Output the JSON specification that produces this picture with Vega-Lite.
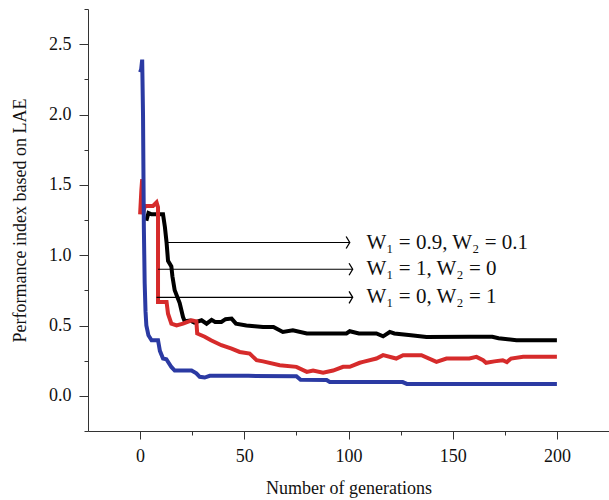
{
  "$schema": "https://vega.github.io/schema/vega-lite/v6.json",
  "width": 521,
  "height": 422,
  "autosize": {"type": "none"},
  "padding": {"left": 88, "top": 9, "right": 0, "bottom": 69},
  "background": "white",
  "config": {
    "view": {"stroke": null},
    "font": "Liberation Serif",
    "axis": {
      "grid": false,
      "domainColor": "#333333",
      "tickColor": "#333333",
      "labelFont": "Liberation Serif",
      "titleFont": "Liberation Serif",
      "labelFontSize": 18,
      "titleFontSize": 18,
      "titleFontWeight": "normal",
      "labelColor": "#111111",
      "titleColor": "#111111"
    }
  },
  "datasets": {
    "curves": [
      {"gen": 3, "perf": 1.245, "s": "a"}, {"gen": 4, "perf": 1.3, "s": "a"}, {"gen": 5.5, "perf": 1.29, "s": "a"}, {"gen": 11, "perf": 1.29, "s": "a"},
      {"gen": 11.9, "perf": 1.2, "s": "a"}, {"gen": 12.7, "perf": 1.09, "s": "a"}, {"gen": 13.4, "perf": 0.96, "s": "a"}, {"gen": 15, "perf": 0.92, "s": "a"},
      {"gen": 15.5, "perf": 0.85, "s": "a"}, {"gen": 16.6, "perf": 0.75, "s": "a"}, {"gen": 19, "perf": 0.66, "s": "a"}, {"gen": 20.6, "perf": 0.56, "s": "a"},
      {"gen": 21.4, "perf": 0.53, "s": "a"}, {"gen": 24, "perf": 0.535, "s": "a"}, {"gen": 26, "perf": 0.52, "s": "a"}, {"gen": 29.5, "perf": 0.537, "s": "a"},
      {"gen": 31.9, "perf": 0.513, "s": "a"}, {"gen": 34.3, "perf": 0.54, "s": "a"}, {"gen": 36, "perf": 0.525, "s": "a"}, {"gen": 39, "perf": 0.525, "s": "a"},
      {"gen": 41, "perf": 0.545, "s": "a"}, {"gen": 43.9, "perf": 0.549, "s": "a"}, {"gen": 46, "perf": 0.513, "s": "a"}, {"gen": 51, "perf": 0.5, "s": "a"},
      {"gen": 55, "perf": 0.495, "s": "a"}, {"gen": 59, "perf": 0.49, "s": "a"}, {"gen": 64, "perf": 0.49, "s": "a"}, {"gen": 68.5, "perf": 0.454, "s": "a"},
      {"gen": 73.3, "perf": 0.466, "s": "a"}, {"gen": 80, "perf": 0.443, "s": "a"}, {"gen": 99, "perf": 0.443, "s": "a"}, {"gen": 100.6, "perf": 0.459, "s": "a"},
      {"gen": 105, "perf": 0.443, "s": "a"}, {"gen": 113.4, "perf": 0.443, "s": "a"}, {"gen": 116.6, "perf": 0.423, "s": "a"}, {"gen": 119.8, "perf": 0.454, "s": "a"},
      {"gen": 122, "perf": 0.443, "s": "a"}, {"gen": 130, "perf": 0.43, "s": "a"}, {"gen": 137.4, "perf": 0.419, "s": "a"}, {"gen": 158, "perf": 0.42, "s": "a"},
      {"gen": 169, "perf": 0.42, "s": "a"}, {"gen": 172, "perf": 0.41, "s": "a"}, {"gen": 180.6, "perf": 0.395, "s": "a"}, {"gen": 200, "perf": 0.395, "s": "a"},

      {"gen": 0, "perf": 1.29, "s": "b"}, {"gen": 0.6, "perf": 1.46, "s": "b"}, {"gen": 1, "perf": 1.54, "s": "b"}, {"gen": 1.4, "perf": 1.3, "s": "b"},
      {"gen": 2.3, "perf": 1.35, "s": "b"}, {"gen": 6.2, "perf": 1.35, "s": "b"}, {"gen": 7.9, "perf": 1.376, "s": "b"}, {"gen": 8.6, "perf": 1.34, "s": "b"},
      {"gen": 8.6, "perf": 0.667, "s": "b"}, {"gen": 12.7, "perf": 0.667, "s": "b"}, {"gen": 13.4, "perf": 0.584, "s": "b"}, {"gen": 15, "perf": 0.513, "s": "b"},
      {"gen": 17.5, "perf": 0.5, "s": "b"}, {"gen": 20.6, "perf": 0.513, "s": "b"}, {"gen": 24.7, "perf": 0.537, "s": "b"}, {"gen": 27, "perf": 0.53, "s": "b"},
      {"gen": 27.4, "perf": 0.443, "s": "b"}, {"gen": 31, "perf": 0.42, "s": "b"}, {"gen": 34, "perf": 0.395, "s": "b"}, {"gen": 39, "perf": 0.36, "s": "b"},
      {"gen": 43.9, "perf": 0.336, "s": "b"}, {"gen": 47.8, "perf": 0.312, "s": "b"}, {"gen": 52.6, "perf": 0.3, "s": "b"}, {"gen": 55.9, "perf": 0.253, "s": "b"},
      {"gen": 59, "perf": 0.245, "s": "b"}, {"gen": 67, "perf": 0.218, "s": "b"}, {"gen": 75, "perf": 0.206, "s": "b"}, {"gen": 80, "perf": 0.17, "s": "b"},
      {"gen": 83, "perf": 0.18, "s": "b"}, {"gen": 87.8, "perf": 0.165, "s": "b"}, {"gen": 92.6, "perf": 0.18, "s": "b"}, {"gen": 97.4, "perf": 0.206, "s": "b"},
      {"gen": 100.6, "perf": 0.206, "s": "b"}, {"gen": 105.4, "perf": 0.235, "s": "b"}, {"gen": 107, "perf": 0.241, "s": "b"}, {"gen": 113.4, "perf": 0.265, "s": "b"},
      {"gen": 116.6, "perf": 0.289, "s": "b"}, {"gen": 122.9, "perf": 0.265, "s": "b"}, {"gen": 126.2, "perf": 0.289, "s": "b"}, {"gen": 135, "perf": 0.289, "s": "b"},
      {"gen": 142.2, "perf": 0.241, "s": "b"}, {"gen": 147, "perf": 0.265, "s": "b"}, {"gen": 158, "perf": 0.265, "s": "b"}, {"gen": 161.4, "perf": 0.277, "s": "b"},
      {"gen": 164.6, "perf": 0.253, "s": "b"}, {"gen": 166, "perf": 0.235, "s": "b"}, {"gen": 170, "perf": 0.245, "s": "b"}, {"gen": 174, "perf": 0.253, "s": "b"},
      {"gen": 176, "perf": 0.24, "s": "b"}, {"gen": 178, "perf": 0.265, "s": "b"}, {"gen": 183.8, "perf": 0.277, "s": "b"}, {"gen": 200, "perf": 0.277, "s": "b"},

      {"gen": 0, "perf": 2.3, "s": "c"}, {"gen": 0.5, "perf": 2.32, "s": "c"}, {"gen": 1, "perf": 2.39, "s": "c"}, {"gen": 1.4, "perf": 2.0, "s": "c"},
      {"gen": 1.8, "perf": 1.2, "s": "c"}, {"gen": 2.2, "perf": 0.8, "s": "c"}, {"gen": 2.6, "perf": 0.6, "s": "c"}, {"gen": 3, "perf": 0.5, "s": "c"},
      {"gen": 4, "perf": 0.43, "s": "c"}, {"gen": 5.5, "perf": 0.395, "s": "c"}, {"gen": 8.6, "perf": 0.395, "s": "c"}, {"gen": 9.5, "perf": 0.32, "s": "c"},
      {"gen": 11, "perf": 0.265, "s": "c"}, {"gen": 12.6, "perf": 0.26, "s": "c"}, {"gen": 15, "perf": 0.205, "s": "c"}, {"gen": 16.6, "perf": 0.18, "s": "c"},
      {"gen": 24.7, "perf": 0.18, "s": "c"}, {"gen": 27, "perf": 0.16, "s": "c"}, {"gen": 28.6, "perf": 0.135, "s": "c"}, {"gen": 31, "perf": 0.13, "s": "c"},
      {"gen": 33.4, "perf": 0.142, "s": "c"}, {"gen": 52, "perf": 0.142, "s": "c"}, {"gen": 75, "perf": 0.14, "s": "c"}, {"gen": 77, "perf": 0.115, "s": "c"},
      {"gen": 89.5, "perf": 0.112, "s": "c"}, {"gen": 91, "perf": 0.098, "s": "c"}, {"gen": 126, "perf": 0.098, "s": "c"}, {"gen": 128, "perf": 0.085, "s": "c"},
      {"gen": 200, "perf": 0.085, "s": "c"}
    ],
    "arrows": [
      {"x0": 12.7, "x1": 100.6, "yv": 1.09, "lab": "W₁ = 0.9, W₂ = 0.1"},
      {"x0": 8.6, "x1": 102, "yv": 0.9, "lab": "W₁ = 1, W₂ = 0"},
      {"x0": 7.9, "x1": 102, "yv": 0.7, "lab": "W₁ = 0, W₂ = 1"}
    ]
  },
  "resolve": {"axis": {"x": "independent", "y": "independent"}},
  "layer": [
    {
      "data": {"name": "curves"},
      "mark": {"type": "line", "strokeWidth": 4, "strokeJoin": "miter", "interpolate": "linear"},
      "encoding": {
        "x": {
          "field": "gen", "type": "quantitative",
          "scale": {"domain": [-25, 225], "nice": false, "zero": false},
          "axis": {
            "orient": "bottom",
            "title": "Number of generations",
            "values": [0, 50, 100, 150, 200],
            "tickSize": 8,
            "labelPadding": 8,
            "titlePadding": 14
          }
        },
        "y": {
          "field": "perf", "type": "quantitative",
          "scale": {"domain": [-0.25, 2.75], "nice": false, "zero": false},
          "axis": {
            "orient": "left",
            "title": "Performance index based on LAE",
            "values": [0, 0.5, 1, 1.5, 2, 2.5],
            "format": ".1f",
            "tickSize": 9,
            "labelPadding": 8,
            "titlePadding": 19
          }
        },
        "color": {
          "field": "s", "type": "nominal",
          "scale": {"domain": ["a", "b", "c"], "range": ["#000000", "#d62b2b", "#2b3aa3"]},
          "legend": null
        }
      }
    },
    {
      "data": {"name": "arrows"},
      "mark": {"type": "rule", "color": "#000000", "strokeWidth": 1.2},
      "encoding": {
        "x": {
          "field": "x0", "type": "quantitative",
          "axis": {"orient": "bottom", "title": null, "values": [25, 75, 125, 175], "labels": false, "tickSize": 4, "domain": false}
        },
        "x2": {"field": "x1"},
        "y": {
          "field": "yv", "type": "quantitative",
          "axis": {"orient": "left", "title": null, "values": [-0.25, 0.25, 0.75, 1.25, 1.75, 2.25, 2.75], "labels": false, "tickSize": 4, "domain": false}
        }
      }
    },
    {
      "data": {"name": "arrows"},
      "mark": {"type": "point", "shape": "M-0.6,-1L0,0L-0.6,1", "filled": false, "stroke": "#000000", "strokeWidth": 1.3, "size": 144, "opacity": 1},
      "encoding": {
        "x": {"field": "x1", "type": "quantitative", "axis": null},
        "y": {"field": "yv", "type": "quantitative", "axis": null}
      }
    },
    {
      "data": {"name": "arrows"},
      "mark": {"type": "text", "align": "left", "baseline": "middle", "fontSize": 21, "font": "Liberation Serif", "color": "#111111", "dx": 0},
      "encoding": {
        "x": {"datum": 108.6, "type": "quantitative", "axis": null},
        "y": {"field": "yv", "type": "quantitative", "axis": null},
        "text": {"field": "lab"}
      }
    }
  ]
}
